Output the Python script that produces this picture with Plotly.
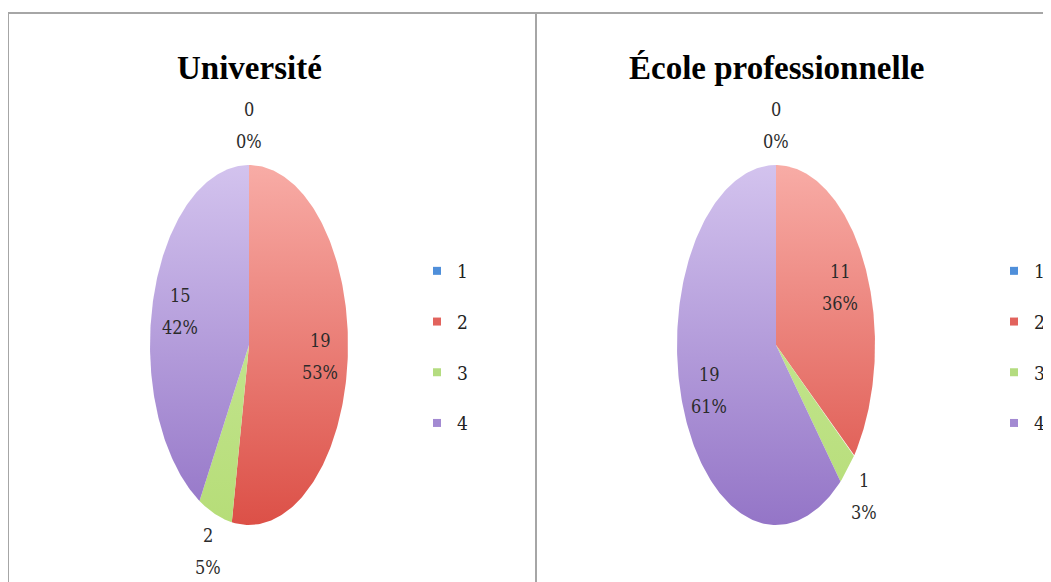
import numpy as np
import plotly.graph_objects as go

# ---------------- data ----------------
categories = ["1", "2", "3", "4"]
titles = ["Université", "École professionnelle"]
uni_values = [0, 19, 2, 15]
uni_pct = ["0%", "53%", "5%", "42%"]
eco_values = [0, 11, 1, 19]
eco_pct = ["0%", "36%", "3%", "61%"]

# ---------------- style ----------------
W, H = 1051, 582
OFF = 8  # page body margin in the browser
legend_colors = ["#4F8FDA", "#E2635D", "#B4DC80", "#A38AD2"]
slice_scales = [
    [[0, "#3E7CC8"], [1, "#8DB8EC"]],
    [[0, "#DC5047"], [1, "#F8ACA6"]],
    [[0, "#B6DD78"], [1, "#CDEBA0"]],
    [[0, "#9475C7"], [1, "#D3C3EE"]],
]
FONT = "DejaVu Serif Condensed"
TITLE_FONT = "Liberation Serif"
panels = [
    dict(values=uni_values, pct=uni_pct, title=titles[0], cx=249, cy=345, legend="legend", lx=417),
    dict(values=eco_values, pct=eco_pct, title=titles[1], cx=776, cy=345, legend="legend2", lx=994),
]
A, B = 99, 180  # semi axes (px)

fig = go.Figure()
annotations = []


def to_y(px):
    return H - px


for p in panels:
    vals = np.array(p["values"], dtype=float)
    total = vals.sum()
    cum = np.concatenate([[0], np.cumsum(vals)]) / total * 2 * np.pi
    cx, cy = p["cx"], to_y(p["cy"])
    for i, v in enumerate(vals):
        t0, t1 = cum[i], cum[i + 1]
        if v > 0:
            th = np.linspace(t0, t1, 200)
            xs = np.concatenate([[cx], cx + A * np.sin(th), [cx]])
            ys = np.concatenate([[cy], cy + B * np.cos(th), [cy]])
            fig.add_trace(go.Scatter(
                x=xs, y=ys, mode="lines", fill="toself",
                line=dict(width=0, color=legend_colors[i]),
                fillgradient=dict(type="vertical", colorscale=slice_scales[i],
                                  start=cy - B, stop=cy + B),
                showlegend=False, hoverinfo="skip"))
        mid = (t0 + t1) / 2
        frac = v / total
        r = 0.72 if frac >= 0.10 else 1.22
        lx = cx + A * r * np.sin(mid)
        ly = cy + B * r * np.cos(mid)
        for txt, shift in ((f"{int(v)}", 16), (p["pct"][i], -16)):
            annotations.append(dict(
                x=lx, y=ly, xref="x", yref="y", text=txt, showarrow=False,
                yshift=shift, font=dict(family=FONT, size=18, color="#2b2b2b")))
    # title
    annotations.append(dict(
        x=cx, y=to_y(68), xref="x", yref="y", text=f"<b>{p['title']}</b>",
        showarrow=False, font=dict(family=TITLE_FONT, size=33, color="#000000")))
    # legend entries
    for i, c in enumerate(categories):
        fig.add_trace(go.Scatter(
            x=[None], y=[None], mode="markers", name=c,
            marker=dict(symbol="square", size=8, color=legend_colors[i]),
            legend=p["legend"], legendgroup=p["legend"] + c, showlegend=True))

legend_common = dict(
    font=dict(family=FONT, size=19, color="#222222"),
    tracegroupgap=23, itemwidth=30, bgcolor="rgba(0,0,0,0)",
    xanchor="left", yanchor="top", y=1 - (252 - OFF) / H,
)

shapes = [
    dict(type="line", xref="x", yref="y", x0=8, x1=W + OFF, y0=to_y(13), y1=to_y(13),
         line=dict(color="#A6A6A6", width=2)),
    dict(type="line", xref="x", yref="y", x0=8, x1=8, y0=to_y(13), y1=-OFF,
         line=dict(color="#A6A6A6", width=2)),
    dict(type="line", xref="x", yref="y", x0=536, x1=536, y0=to_y(13), y1=-OFF,
         line=dict(color="#A6A6A6", width=2)),
]

fig.update_layout(
    width=W, height=H,
    margin=dict(l=0, r=0, t=0, b=0),
    paper_bgcolor="white", plot_bgcolor="white",
    xaxis=dict(range=[OFF, W + OFF], visible=False, fixedrange=True),
    yaxis=dict(range=[-OFF, H - OFF], visible=False, fixedrange=True),
    annotations=annotations, shapes=shapes,
    legend=dict(x=(panels[0]["lx"] - OFF) / W, **legend_common),
    legend2=dict(x=(panels[1]["lx"] - OFF) / W, **legend_common),
)

fig.write_html("out.html")
